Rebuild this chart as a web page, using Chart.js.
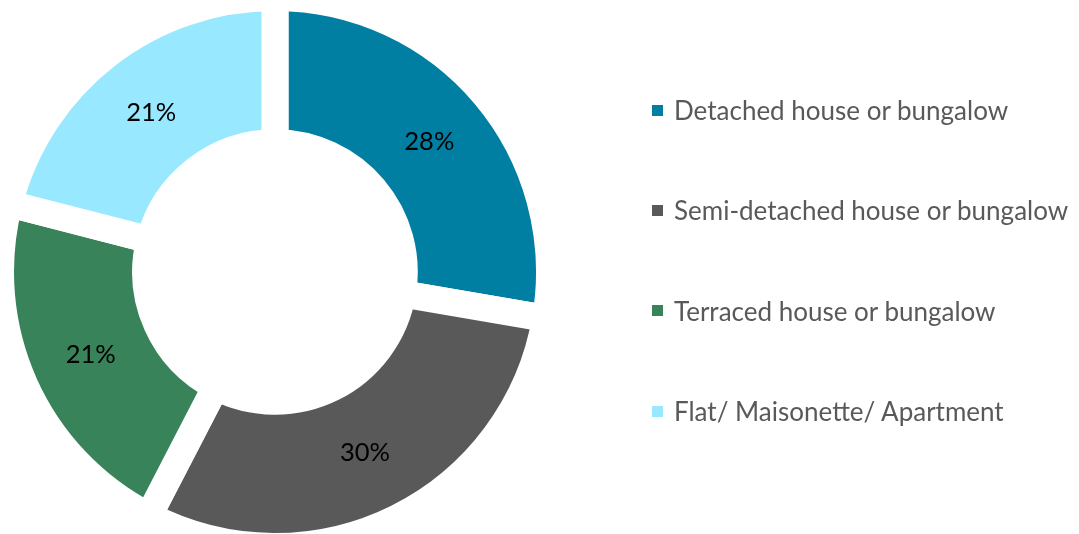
<!DOCTYPE html>
<html>
<head>
<meta charset="utf-8">
<script src="https://cdn.jsdelivr.net/npm/chart.js@4.4.1/dist/chart.umd.min.js"></script>
<style>
  html, body { margin: 0; padding: 0; background: #ffffff; }
  #wrap { position: relative; width: 1079px; height: 534px; overflow: hidden; }
  #chart { position: absolute; left: 0; top: 0; }
  #legend { position: absolute; left: 652px; top: 60px; margin: 0; padding: 0; list-style: none;
            font-family: Lato, "Open Sans", sans-serif; font-size: 26px; color: #595959; }
  #legend li { height: 100.3px; display: flex; align-items: center; white-space: nowrap; }
  #legend .box { width: 11px; height: 11px; margin-right: 11px; flex: none; }
</style>
</head>
<body>
<div id="wrap">
  <canvas id="chart" width="1079" height="534"></canvas>
  <ul id="legend"></ul>
</div>
<script>
const categories = [
  'Detached house or bungalow',
  'Semi-detached house or bungalow',
  'Terraced house or bungalow',
  'Flat/ Maisonette/ Apartment'
];
const shares = [27.7, 29.9, 21.4, 21.0];
const sliceColors = ['#007FA3', '#595959', '#38835A', '#98E8FF'];

const labelPlugin = {
  id: 'sliceLabels',
  afterDatasetsDraw(chart) {
    const ctx = chart.ctx;
    const meta = chart.getDatasetMeta(0);
    const values = chart.data.datasets[0].data;
    ctx.save();
    ctx.font = '25.5px Lato, "Open Sans", sans-serif';
    ctx.fillStyle = '#000000';
    ctx.textAlign = 'center';
    ctx.textBaseline = 'middle';
    meta.data.forEach((arc, i) => {
      const p = arc.tooltipPosition();
      ctx.fillText(Math.round(values[i]) + '%', p.x, p.y);
    });
    ctx.restore();
  }
};

new Chart(document.getElementById('chart'), {
  type: 'doughnut',
  data: {
    labels: categories,
    datasets: [{
      data: shares,
      backgroundColor: sliceColors,
      borderColor: '#ffffff',
      borderWidth: 27,
      borderAlign: 'center',
      hoverOffset: 0
    }]
  },
  options: {
    responsive: false,
    animation: false,
    radius: 274.5,
    cutout: '47.1%',
    layout: { padding: { left: 0, right: 529, top: 10, bottom: 0 } },
    plugins: {
      legend: { display: false },
      tooltip: { enabled: false }
    },
    events: []
  },
  plugins: [labelPlugin]
});

const legendEl = document.getElementById('legend');
categories.forEach((name, i) => {
  const li = document.createElement('li');
  const box = document.createElement('span');
  box.className = 'box';
  box.style.background = sliceColors[i];
  const txt = document.createElement('span');
  txt.textContent = name;
  li.appendChild(box);
  li.appendChild(txt);
  legendEl.appendChild(li);
});
</script>
</body>
</html>
